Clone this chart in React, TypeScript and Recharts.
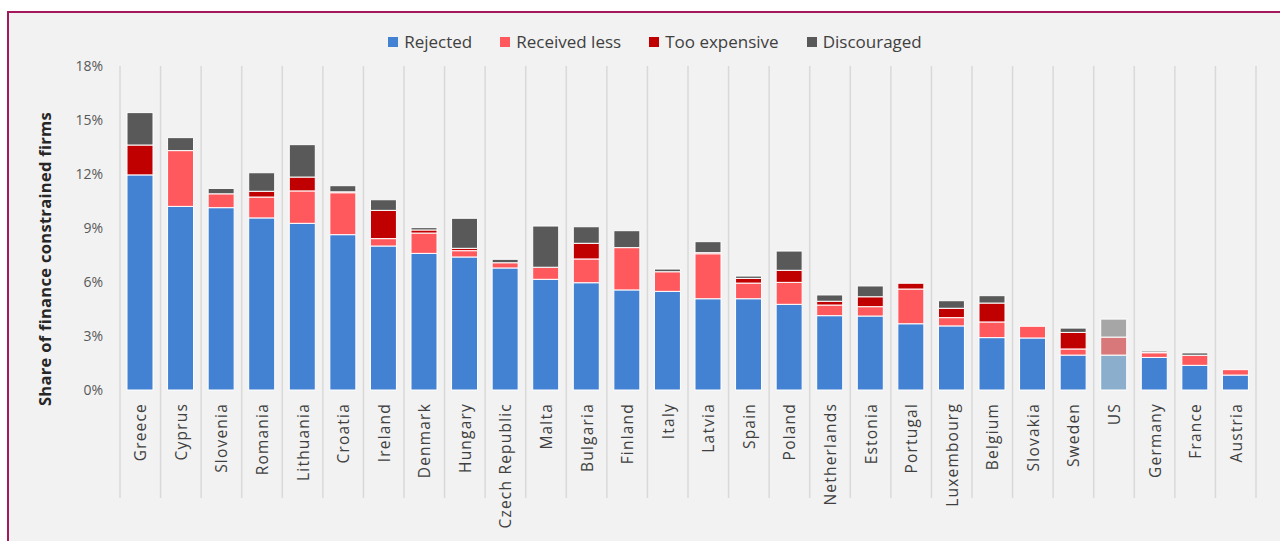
import React from "react";
import { Bar, BarChart, CartesianGrid, Cell, Legend, XAxis, YAxis } from "recharts";

const countries = [
  "Greece", "Cyprus", "Slovenia", "Romania", "Lithuania", "Croatia", "Ireland",
  "Denmark", "Hungary", "Czech Republic", "Malta", "Bulgaria", "Finland", "Italy",
  "Latvia", "Spain", "Poland", "Netherlands", "Estonia", "Portugal", "Luxembourg",
  "Belgium", "Slovakia", "Sweden", "US", "Germany", "France", "Austria",
];
const rejected = [
  11.95, 10.2, 10.13, 9.56, 9.26, 8.63, 8.0, 7.59, 7.39, 6.78, 6.15, 5.96, 5.56, 5.48,
  5.07, 5.07, 4.76, 4.13, 4.11, 3.68, 3.56, 2.91, 2.89, 1.94, 1.94, 1.81, 1.37, 0.83,
];
const receivedLess = [
  0, 3.1, 0.77, 1.16, 1.8, 2.33, 0.41, 1.13, 0.35, 0.29, 0.67, 1.32, 2.35, 1.09,
  2.5, 0.87, 1.22, 0.59, 0.52, 1.93, 0.46, 0.87, 0.65, 0.34, 1.0, 0.26, 0.56, 0.3,
];
const tooExpensive = [
  1.66, 0, 0, 0.32, 0.77, 0.05, 1.57, 0.17, 0.13, 0, 0, 0.87, 0, 0,
  0.06, 0.26, 0.67, 0.21, 0.55, 0.32, 0.52, 1.05, 0, 0.92, 0, 0.04, 0, 0,
];
const discouraged = [
  1.8, 0.72, 0.3, 1.03, 1.8, 0.34, 0.59, 0.13, 1.67, 0.19, 2.29, 0.92, 0.94, 0.15,
  0.61, 0.13, 1.07, 0.35, 0.6, 0, 0.42, 0.41, 0, 0.24, 1.0, 0.07, 0.13, 0,
];
const yTicks = [0, 3, 6, 9, 12, 15, 18];

const series = [
  { key: "rejected", name: "Rejected", color: "#4381d3", faded: "#8aaecb" },
  { key: "receivedLess", name: "Received less", color: "#ff595e", faded: "#d9787a" },
  { key: "tooExpensive", name: "Too expensive", color: "#c00000", faded: "#d98080" },
  { key: "discouraged", name: "Discouraged", color: "#595959", faded: "#a6a6a6" },
];

const data = countries.map((country, i) => ({
  country,
  rejected: rejected[i],
  receivedLess: receivedLess[i],
  tooExpensive: tooExpensive[i],
  discouraged: discouraged[i],
}));

const W = 1280;
const H = 541;
const PLOT_LEFT = 120;
const PLOT_RIGHT = 1256;
const PLOT_TOP = 66;
const PLOT_BOTTOM = 390;
const GRID_BOTTOM = 498;
const step = (PLOT_RIGHT - PLOT_LEFT) / countries.length;
const gridColor = "#d9d9d9";
const font = "'Open Sans', 'Noto Sans', sans-serif";

const CountryTick = (props: any) => {
  const { x, payload, index } = props;
  const left = x - step / 2;
  return (
    <g>
      <line x1={left} x2={left} y1={PLOT_BOTTOM} y2={GRID_BOTTOM} stroke={gridColor} strokeWidth={1.5} />
      {index === countries.length - 1 && (
        <line x1={left + step} x2={left + step} y1={PLOT_BOTTOM} y2={GRID_BOTTOM} stroke={gridColor} strokeWidth={1.5} />
      )}
      <text
        transform={`translate(${x},${PLOT_BOTTOM + 13}) rotate(-90)`}
        textAnchor="end"
        dominantBaseline="central"
        fill="#404040"
        fontSize={15.5}
        letterSpacing={1.2}
        fontFamily={font}
      >
        {payload.value}
      </text>
    </g>
  );
};

const LegendContent = () => (
  <div style={{ display: "flex", justifyContent: "center", gap: 28, fontFamily: font, fontSize: 17, color: "#404040" }}>
    {series.map((s) => (
      <div key={s.key} style={{ display: "flex", alignItems: "center" }}>
        <span style={{ width: 10, height: 10, background: s.color, marginRight: 6, display: "inline-block" }} />
        <span>{s.name}</span>
      </div>
    ))}
  </div>
);

export default function App() {
  return (
    <div style={{ position: "fixed", left: 0, top: 0, width: W, height: H, background: "#fff", overflow: "hidden" }}>
      <div
        style={{
          position: "absolute",
          left: 7,
          top: 11,
          width: W + 20,
          height: H + 20,
          background: "#f2f2f2",
          border: "2px solid #a3195b",
          boxSizing: "border-box",
        }}
      />
      <div style={{ position: "absolute", left: 0, top: 0 }}>
        <BarChart
          width={W}
          height={H}
          data={data}
          barSize={26}
          margin={{ top: PLOT_TOP, right: W - PLOT_RIGHT, left: 0, bottom: 0 }}
        >
          <CartesianGrid
            horizontal={false}
            stroke={gridColor}
            strokeWidth={1.5}
            verticalCoordinatesGenerator={() =>
              Array.from({ length: countries.length + 1 }, (_, i) => PLOT_LEFT + i * step)
            }
          />
          <XAxis
            dataKey="country"
            interval={0}
            height={H - PLOT_BOTTOM}
            axisLine={false}
            tickLine={false}
            tick={<CountryTick />}
          />
          <YAxis
            width={PLOT_LEFT}
            domain={[0, 18]}
            ticks={yTicks}
            axisLine={false}
            tickLine={false}
            tickSize={0}
            tickMargin={17}
            tickFormatter={(v: number) => `${v}%`}
            tick={{ fill: "#595959", fontSize: 14, fontFamily: font }}
            label={{
              value: "Share of finance constrained firms",
              angle: -90,
              position: "center",
              dx: -15,
              dy: 31,
              fill: "#262626",
              fontSize: 16.5,
              fontWeight: 700,
              letterSpacing: 0.3,
              fontFamily: font,
            }}
          />
          <Legend
            layout="horizontal"
            verticalAlign="middle"
            align="center"
            content={<LegendContent />}
            wrapperStyle={{ top: 30, left: 0, width: 1310, height: 22 }}
          />
          {series.map((s) => (
            <Bar
              key={s.key}
              dataKey={s.key}
              name={s.name}
              stackId="a"
              fill={s.color}
              stroke="#ffffff"
              strokeWidth={1}
              isAnimationActive={false}
            >
              {countries.map((c) => (
                <Cell key={c} fill={c === "US" ? s.faded : s.color} />
              ))}
            </Bar>
          ))}
        </BarChart>
      </div>
    </div>
  );
}
